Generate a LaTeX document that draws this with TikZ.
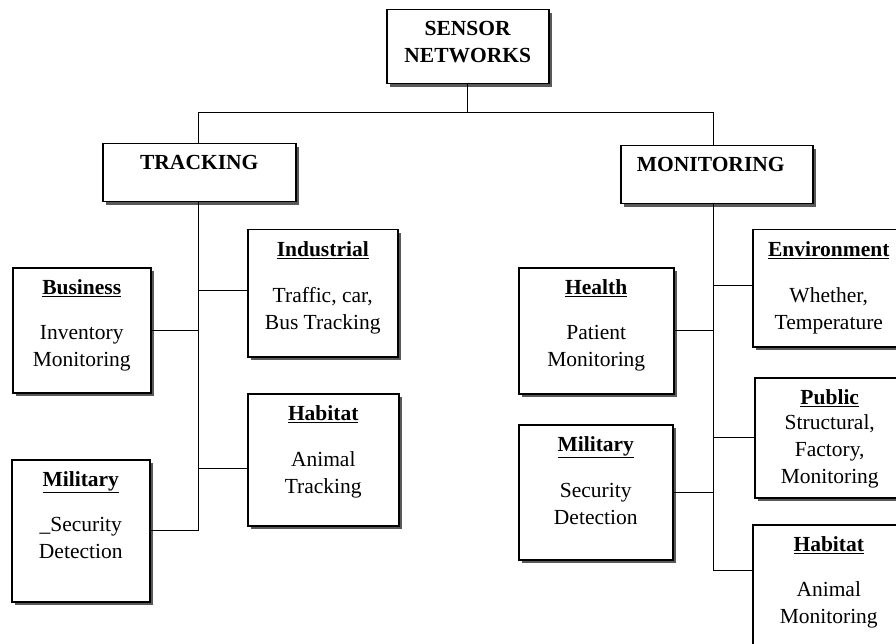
\documentclass[tikz,border=0pt]{standalone}
\usepackage{fontspec}
\setmainfont{Liberation Serif}
\usetikzlibrary{positioning, shadows, calc}
\tikzset{
	boxframe/.style={draw, line width=1.5pt, fill=white, anchor=north west, inner sep=0pt,
		drop shadow={shadow xshift=3pt, shadow yshift=-3pt, fill=black!65, opacity=1}}
}
\tikzset{
	boxlabel/.style={font=\fontsize{21.5}{27}\selectfont, align=center, inner sep=0pt}
}
\tikzset{
	branch/.style={line width=1.3pt}
}
\newcommand{\head}[1]{\underline{\textbf{#1}}}

\begin{document}
\begin{tikzpicture}[x=1pt, y=-1pt]
      \useasboundingbox (0,0) rectangle (896,644);
      \clip (0,0) rectangle (896,644);
      % root and the two main groups
      \node[boxframe, minimum width=162pt, minimum height=74pt] (sn) at (386,9) {};
      \node[boxlabel, below=12pt of sn.north] (snt) {\textbf{SENSOR}\\\textbf{NETWORKS}};
      \node[boxframe, minimum width=193pt, minimum height=58pt] (tr) at (102,143) {};
      \node[boxlabel, below=12pt of tr.north] (trt) {\textbf{TRACKING}};
      \node[boxframe, minimum width=192pt, minimum height=58pt] (mo) at (620,145) {};
      \node[boxlabel, below=12pt of mo.north, xshift=-6pt] (mot) {\textbf{MONITORING}};
      % tracking side
      \node[boxframe, minimum width=150pt, minimum height=127pt] (ind) at (247,229) {};
      \node[boxlabel, below=12pt of ind.north] (indt) {\head{Industrial}\\[19pt]Traffic, car,\\Bus Tracking};
      \node[boxframe, minimum width=138pt, minimum height=125pt] (bus) at (12,267) {};
      \node[boxlabel, below=12pt of bus.north] (bust) {\head{Business}\\[18pt]Inventory\\Monitoring};
      \node[boxframe, minimum width=151pt, minimum height=132pt] (habt) at (247,393) {};
      \node[boxlabel, below=12pt of habt.north] (habtt) {\head{Habitat}\\[19pt]Animal\\Tracking};
      \node[boxframe, minimum width=138pt, minimum height=142pt] (milt) at (11,459) {};
      \node[boxlabel, below=12pt of milt.north] (miltt) {\head{Military}\\[18pt]\_Security\\Detection};
      % monitoring side
      \node[boxframe, minimum width=152pt, minimum height=117pt] (env) at (752,229) {};
      \node[boxlabel, below=12pt of env.north] (envt) {\head{Environment}\\[19pt]Whether,\\Temperature};
      \node[boxframe, minimum width=155pt, minimum height=126pt] (hea) at (518,267) {};
      \node[boxlabel, below=12pt of hea.north] (heat) {\head{Health}\\[18pt]Patient\\Monitoring};
      \node[boxframe, minimum width=150pt, minimum height=120pt] (pub) at (754,377) {};
      \node[boxlabel, below=12pt of pub.north] (pubt) {\head{Public}\\[-2pt]Structural,\\Factory,\\Monitoring};
      \node[boxframe, minimum width=154pt, minimum height=135pt] (milm) at (518,424) {};
      \node[boxlabel, below=12pt of milm.north] (milmt) {\head{Military}\\[19pt]Security\\Detection};
      \node[boxframe, minimum width=152pt, minimum height=140pt] (habm) at (752,524) {};
      \node[boxlabel, below=12pt of habm.north] (habmt) {\head{Habitat}\\[18pt]Animal\\Monitoring};
      % connector ends
      \coordinate (split) at ([yshift=-28pt]sn.south);
      \coordinate (trtop) at ([xshift=-1pt]tr.north);
      \coordinate (trbot) at ([xshift=-1pt]tr.south);
      \coordinate (motop) at ([xshift=-3pt]mo.north);
      \coordinate (mobot) at ([xshift=-3pt]mo.south);
      \coordinate (indin) at ([yshift=3pt]ind.west);
      \coordinate (habtin) at ([yshift=-9pt]habt.west);
      \coordinate (envin) at ([yshift=3pt]env.west);
      \coordinate (habmin) at ([yshift=24pt]habm.west);
      % connectors
      \draw[branch] (sn.south) -- (split);
      \draw[branch] (trtop) |- (split) -| (motop);
      \draw[branch] (trbot) -- (trbot |- milt.east);
      \draw[branch] (indin) -- (trbot |- indin);
      \draw[branch] (bus.east) -- (trbot |- bus.east);
      \draw[branch] (habtin) -- (trbot |- habtin);
      \draw[branch] (milt.east) -- (trbot |- milt.east);
      \draw[branch] (mobot) -- (mobot |- habmin);
      \draw[branch] (envin) -- (mobot |- envin);
      \draw[branch] (hea.east) -- (mobot |- hea.east);
      \draw[branch] (pub.west) -- (mobot |- pub.west);
      \draw[branch] (milm.east) -- (mobot |- milm.east);
      \draw[branch] (habmin) -- (mobot |- habmin);
    \end{tikzpicture}
\end{document}
